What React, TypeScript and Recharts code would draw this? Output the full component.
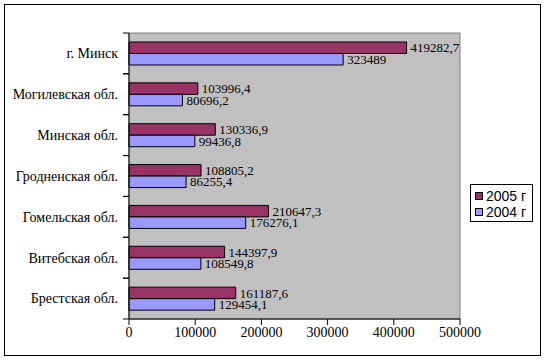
import React from 'react';
import { BarChart, Bar, XAxis, YAxis, ReferenceArea, LabelList } from 'recharts';

const regions = [
  'г. Минск',
  'Могилевская обл.',
  'Минская обл.',
  'Гродненская обл.',
  'Гомельская обл.',
  'Витебская обл.',
  'Брестская обл.',
];
const values2005 = [419282.7, 103996.4, 130336.9, 108805.2, 210647.3, 144397.9, 161187.6];
const values2004 = [323489, 80696.2, 99436.8, 86255.4, 176276.1, 108549.8, 129454.1];
const xTicks = [0, 100000, 200000, 300000, 400000, 500000];

const data = regions.map((name, i) => ({ name, y2005: values2005[i], y2004: values2004[i] }));

const COLOR_2005 = '#993366';
const COLOR_2004 = '#9999FF';
const SERIF = '"Liberation Serif", "Times New Roman", serif';
const SANS = '"Liberation Sans", Arial, sans-serif';

const PLOT_TOP = 33;
const PLOT_BOTTOM = 319;
const BAND = (PLOT_BOTTOM - PLOT_TOP) / regions.length;

const fmt = (v: any) => String(v).replace('.', ',');

const RegionTick = (props: any) => {
  const { x, y, payload } = props;
  return (
    <g>
      <line x1={x - 6} x2={x} y1={y - BAND / 2} y2={y - BAND / 2} stroke="#000" />
      <line x1={x - 6} x2={x} y1={y + BAND / 2} y2={y + BAND / 2} stroke="#000" />
      <text x={x - 11} y={y} dy="0.35em" textAnchor="end" fontFamily={SERIF} fontSize={14} fill="#000">
        {payload.value}
      </text>
    </g>
  );
};

const LegendBox = () => (
  <div
    style={{
      position: 'absolute',
      left: 470,
      top: 184,
      width: 63,
      height: 38,
      boxSizing: 'border-box',
      border: '1px solid #000',
      background: '#fff',
      fontFamily: SANS,
      fontSize: 14,
      color: '#000',
      padding: '3px 0 0 4px',
    }}
  >
    {[
      { label: '2005 г', color: COLOR_2005 },
      { label: '2004 г', color: COLOR_2004 },
    ].map((it) => (
      <div key={it.label} style={{ display: 'flex', alignItems: 'center', height: 16 }}>
        <span
          style={{
            display: 'inline-block',
            width: 6,
            height: 6,
            background: it.color,
            border: '1px solid #000',
            marginRight: 3,
          }}
        />
        <span>{it.label}</span>
      </div>
    ))}
  </div>
);

export default function App() {
  return (
    <div style={{ position: 'absolute', left: 0, top: 0, width: 546, height: 363, background: '#fff' }}>
      <div
        style={{
          position: 'absolute',
          left: 4,
          top: 4,
          width: 537,
          height: 352,
          boxSizing: 'border-box',
          border: '1px solid #000',
        }}
      />
      <div style={{ position: 'absolute', left: 0, top: 0 }}>
        <BarChart
          width={546}
          height={363}
          data={data}
          layout="vertical"
          margin={{ top: PLOT_TOP, right: 86, bottom: 14, left: 9 }}
          barGap={0}
          barSize={11.5}
        >
          <XAxis
            type="number"
            domain={[0, 500000]}
            ticks={xTicks}
            interval={0}
            height={30}
            axisLine={{ stroke: '#000' }}
            tickLine={{ stroke: '#000' }}
            tickSize={6}
            tick={{ fontFamily: SERIF, fontSize: 14, fill: '#000' }}
          />
          <YAxis
            type="category"
            dataKey="name"
            width={120}
            axisLine={{ stroke: '#000' }}
            tickLine={false}
            tickSize={0}
            tickMargin={0}
            tick={<RegionTick />}
            interval={0}
          />
          <ReferenceArea
            x1={0}
            x2={500000}
            fill="#C0C0C0"
            fillOpacity={1}
            stroke="#808080"
            ifOverflow="extendDomain"
          />
          <Bar dataKey="y2005" fill={COLOR_2005} stroke="#000" strokeWidth={1} isAnimationActive={false}>
            <LabelList
              dataKey="y2005"
              position="right"
              offset={4}
              formatter={fmt}
              style={{ fontFamily: SERIF, fontSize: 13, fill: '#000' }}
            />
          </Bar>
          <Bar dataKey="y2004" fill={COLOR_2004} stroke="#000" strokeWidth={1} isAnimationActive={false}>
            <LabelList
              dataKey="y2004"
              position="right"
              offset={4}
              formatter={fmt}
              style={{ fontFamily: SERIF, fontSize: 13, fill: '#000' }}
            />
          </Bar>
        </BarChart>
      </div>
      <LegendBox />
    </div>
  );
}
